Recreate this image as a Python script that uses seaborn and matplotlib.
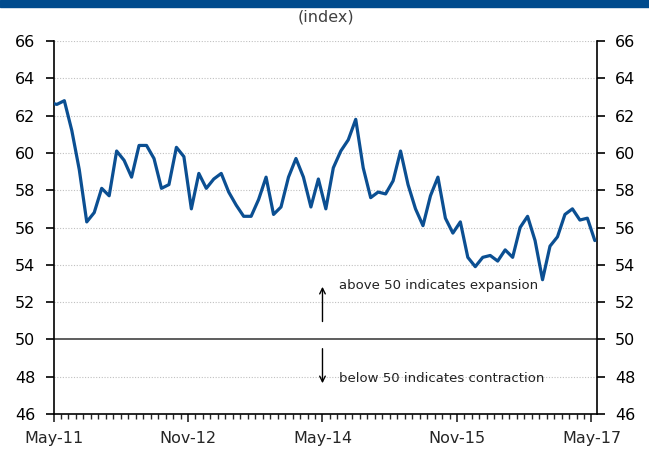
import numpy as np
import pandas as pd
import matplotlib.pyplot as plt
from matplotlib.patches import Rectangle
from matplotlib.ticker import MultipleLocator
import seaborn as sns

# monthly index values, Apr-11 (clipped at the left edge) through May-17
pmi = [62.7,
       62.6, 62.8, 61.2, 59.1, 56.3, 56.8, 58.1, 57.7, 60.1, 59.6, 58.7, 60.4,
       60.4, 59.7, 58.1, 58.3, 60.3, 59.8, 57.0, 58.9, 58.1, 58.6, 58.9, 57.9,
       57.2, 56.6, 56.6, 57.5, 58.7, 56.7, 57.1, 58.7, 59.7, 58.7, 57.1, 58.6,
       57.0, 59.2, 60.1, 60.7, 61.8, 59.2, 57.6, 57.9, 57.8, 58.5, 60.1, 58.3,
       57.0, 56.1, 57.7, 58.7, 56.5, 55.7, 56.3, 54.4, 53.9, 54.4, 54.5, 54.2,
       54.8, 54.4, 56.0, 56.6, 55.3, 53.2, 55.0, 55.5, 56.7, 57.0, 56.4, 56.5,
       55.3]
tick_pos = [0, 18, 36, 54, 72]
tick_labels = ['May-11', 'Nov-12', 'May-14', 'Nov-15', 'May-17']
y_ticks = list(range(46, 67, 2))

# month number counted from May-11 (Apr-11 = -1), points sit a bit inside each month
df = pd.DataFrame({'month': np.arange(-1, len(pmi) - 1) + 0.45, 'pmi': pmi})

sns.set_style('white')
plt.rcParams['font.family'] = ['DejaVu Sans']

fig = plt.figure(figsize=(6.49, 4.5), dpi=100)
ax = fig.add_axes([53.5 / 649, 36 / 450, (596.7 - 53.5) / 649, 373 / 450])

for v in y_ticks:
    if v != 50:
        ax.axhline(v, color='#c0c0c0', lw=0.8, ls=(0, (1, 1.5)), zorder=0)
ax.axhline(50, color='#505050', lw=1.3, zorder=1)

sns.lineplot(data=df, x='month', y='pmi', ax=ax, color='#0B4F92', lw=2.3, zorder=3)

ax.set_xlim(0, 72.7)
ax.set_ylim(46, 66)
ax.set_xlabel('')
ax.set_ylabel('')

ax.set_yticks(y_ticks)
ax.set_xticks(tick_pos)
ax.set_xticklabels(tick_labels)
ax.xaxis.set_minor_locator(MultipleLocator(1))

for s in ['left', 'right', 'bottom']:
    ax.spines[s].set_visible(True)
    ax.spines[s].set_color('black')
    ax.spines[s].set_linewidth(1.2)
ax.spines['top'].set_visible(False)

ax.tick_params(axis='y', left=True, right=True, labelleft=True, labelright=True,
               direction='out', length=6, width=1.2, pad=7, labelsize=11.5, colors='black')
ax.tick_params(axis='x', which='major', bottom=True, direction='out', length=6,
               width=1.2, pad=6, labelsize=11.5)
ax.tick_params(axis='x', which='minor', bottom=True, direction='out', length=3.5, width=1)

# expansion / contraction notes
ax.annotate('', xy=(36, 52.97), xytext=(36, 50.81),
            arrowprops=dict(arrowstyle='->', color='black', lw=1))
ax.annotate('', xy=(36, 47.5), xytext=(36, 49.65),
            arrowprops=dict(arrowstyle='->', color='black', lw=1))
ax.text(38.2, 52.9, 'above 50 indicates expansion', va='center', fontsize=9.5, color='#222222')
ax.text(38.2, 47.88, 'below 50 indicates contraction', va='center', fontsize=9.5, color='#222222')

# title band (cut off at the top) and unit note
fig.patches.append(Rectangle((0, 1 - 7 / 450), 1, 7 / 450, transform=fig.transFigure,
                             color='#004B8D', zorder=0))
fig.text(326 / 649, 1 - 17 / 450, '(index)', ha='center', va='center',
         fontsize=11.5, color='#404040')

fig.savefig('out.png', dpi=100)
